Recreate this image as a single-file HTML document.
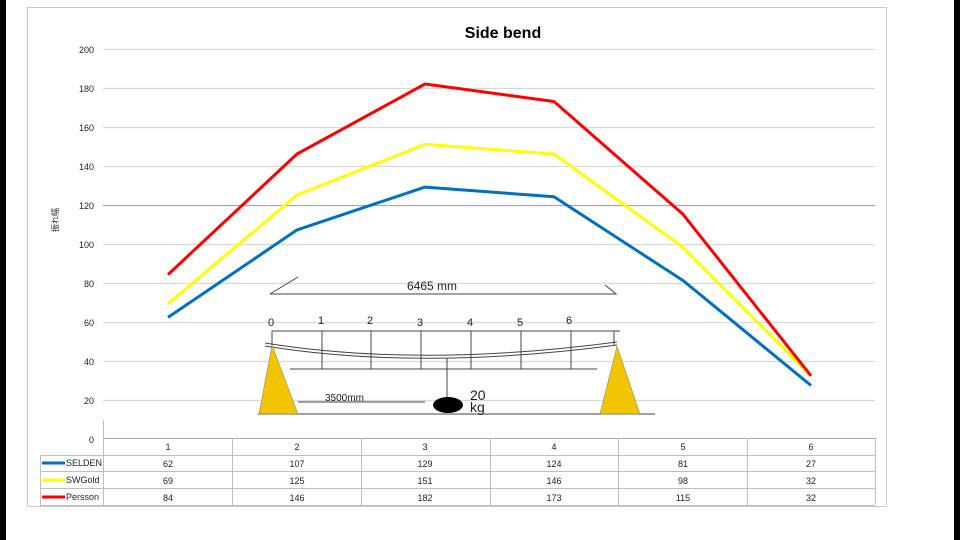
<!DOCTYPE html>
<html><head><meta charset="utf-8"><style>
body{margin:0;background:#000;}
#p{position:absolute;left:6px;top:0;width:948px;height:540px;background:#fff;}
text{font-family:"Liberation Sans","Noto Sans CJK JP",sans-serif;}
</style></head><body>
<div id="p"></div>
<svg width="960" height="540" style="position:absolute;left:0;top:0">
<rect x="27.5" y="7.5" width="859" height="499" fill="none" stroke="#c8c8c8"/>
<text x="503" y="38" font-size="16" font-weight="bold" text-anchor="middle">Side bend</text>
<g stroke="#d9d9d9" stroke-width="1.2">
<line x1="103" x2="875" y1="49.5" y2="49.5"/><line x1="103" x2="875" y1="88.5" y2="88.5"/>
<line x1="103" x2="875" y1="127.5" y2="127.5"/><line x1="103" x2="875" y1="166.5" y2="166.5"/>
<line x1="103" x2="875" y1="205.5" y2="205.5" stroke="#aaa"/><line x1="103" x2="875" y1="244.5" y2="244.5"/>
<line x1="103" x2="875" y1="283.5" y2="283.5"/><line x1="103" x2="875" y1="322.5" y2="322.5"/>
<line x1="103" x2="875" y1="361.5" y2="361.5"/><line x1="103" x2="875" y1="400.5" y2="400.5"/>
</g>
<g font-size="9" text-anchor="end" fill="#222">
<text x="94" y="53">200</text><text x="94" y="92">180</text><text x="94" y="131">160</text><text x="94" y="170">140</text><text x="94" y="209">120</text><text x="94" y="248">100</text><text x="94" y="287">80</text><text x="94" y="326">60</text><text x="94" y="365">40</text><text x="94" y="404">20</text><text x="94" y="443">0</text>
</g>
<text transform="translate(58,220) rotate(-90)" font-size="8" text-anchor="middle" fill="#222">振れ幅</text>
<!-- diagram -->
<g stroke="#444" fill="none" stroke-width="1">
<polyline points="270,294 298,277"/><polyline points="270,294 616,294 605,285"/>
<line x1="272" y1="331" x2="620" y2="331"/>
<line x1="290" y1="369" x2="597" y2="369"/>
<line x1="272" y1="331" x2="272" y2="345"/><line x1="322" y1="331" x2="322" y2="369"/><line x1="371" y1="331" x2="371" y2="369"/><line x1="421" y1="331" x2="421" y2="369"/><line x1="471" y1="331" x2="471" y2="369"/><line x1="521" y1="331" x2="521" y2="369"/><line x1="571" y1="331" x2="571" y2="369"/><line x1="614" y1="331" x2="614" y2="345"/>
<path d="M265,343 Q420,368 617,342"/><path d="M265,346 Q420,371 617,345"/>
<line x1="447" y1="358" x2="447" y2="400"/>
<line x1="258" y1="414" x2="655" y2="414"/>
<line x1="298" y1="402" x2="425" y2="402"/>
</g>
<polygon points="272,345 259,414 298,414" fill="#f2c500" stroke="#777" stroke-width="0.5"/>
<polygon points="617,346 600,414 640,414" fill="#f2c500" stroke="#777" stroke-width="0.5"/>
<ellipse cx="448" cy="405" rx="15" ry="8" fill="#000"/>
<g font-size="11" fill="#222"><text x="407" y="290" font-size="12">6465 mm</text>
<text x="268" y="326">0</text><text x="318" y="324">1</text><text x="367" y="324">2</text><text x="417" y="326">3</text><text x="467" y="326">4</text><text x="517" y="326">5</text><text x="566" y="324">6</text>
<text x="325" y="401" font-size="10">3500mm</text>
<text x="470" y="400" font-size="14">20</text><text x="470" y="412" font-size="14">kg</text></g>
<!-- series -->
<g fill="none" stroke-width="3" stroke-linejoin="round">
<polyline stroke="#0070c0" points="168,317.4 297,229.9 425,187.1 554,196.8 683,280.5 811,385.5"/>
<polyline stroke="#ffff00" points="168,303.8 297,194.9 425,144.3 554,154 683,247.4 811,375.8"/>
<polyline stroke="#ff0000" points="168,274.6 297,154 425,84 554,101.5 683,214.3 811,375.8"/>
</g>
<!-- table -->
<g stroke="#bfbfbf" stroke-width="1" fill="none">
<line x1="103" y1="438.5" x2="875" y2="438.5" stroke="#aaa"/>
<line x1="40" y1="455.5" x2="875" y2="455.5"/><line x1="40" y1="471.5" x2="875" y2="471.5"/><line x1="40" y1="488.5" x2="875" y2="488.5"/><line x1="40" y1="505.5" x2="875" y2="505.5"/>
<line x1="40.5" y1="455" x2="40.5" y2="505"/>
<line x1="103.5" y1="420" x2="103.5" y2="505"/><line x1="232.5" y1="438" x2="232.5" y2="505"/><line x1="361.5" y1="438" x2="361.5" y2="505"/><line x1="490.5" y1="438" x2="490.5" y2="505"/><line x1="618.5" y1="438" x2="618.5" y2="505"/><line x1="747.5" y1="438" x2="747.5" y2="505"/><line x1="875.5" y1="438" x2="875.5" y2="505"/>
</g>
<g stroke-width="3"><line x1="42" y1="463" x2="65" y2="463" stroke="#0070c0"/><line x1="42" y1="480" x2="65" y2="480" stroke="#ffff00"/><line x1="42" y1="497" x2="65" y2="497" stroke="#ff0000"/></g>
<g font-size="9" fill="#222"><text x="66" y="466">SELDEN</text><text x="66" y="483">SWGold</text><text x="66" y="500">Persson</text></g>
<g font-size="9" fill="#222" text-anchor="middle">
<text x="168" y="450">1</text><text x="297" y="450">2</text><text x="425" y="450">3</text><text x="554" y="450">4</text><text x="683" y="450">5</text><text x="811" y="450">6</text>
<text x="168" y="467">62</text><text x="297" y="467">107</text><text x="425" y="467">129</text><text x="554" y="467">124</text><text x="683" y="467">81</text><text x="811" y="467">27</text>
<text x="168" y="484">69</text><text x="297" y="484">125</text><text x="425" y="484">151</text><text x="554" y="484">146</text><text x="683" y="484">98</text><text x="811" y="484">32</text>
<text x="168" y="501">84</text><text x="297" y="501">146</text><text x="425" y="501">182</text><text x="554" y="501">173</text><text x="683" y="501">115</text><text x="811" y="501">32</text>
</g>
</svg>
</body></html>
